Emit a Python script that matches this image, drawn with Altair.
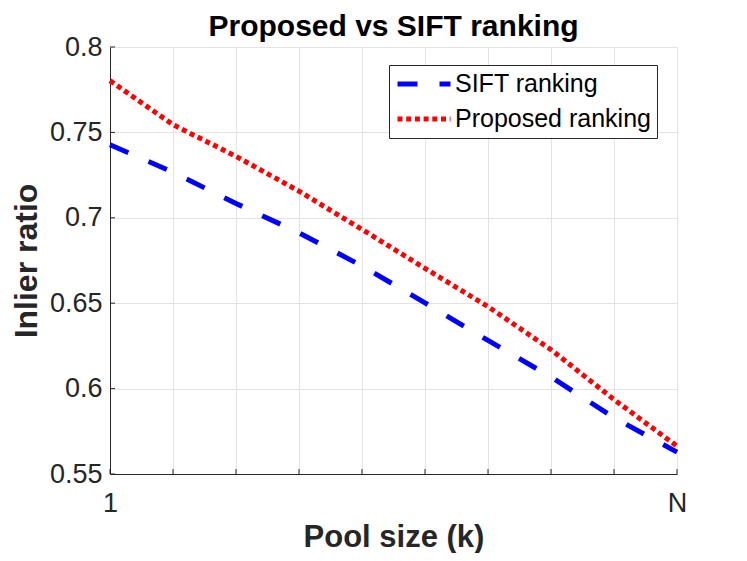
import altair as alt
import pandas as pd

pool = [1, 2, 3, 4, 5, 6, 7, 8, 9, 10]
sift = [0.7428, 0.7267, 0.7084, 0.6912, 0.6718, 0.6502, 0.6282, 0.6068, 0.5830, 0.5628]
proposed = [0.7803, 0.7545, 0.7360, 0.7156, 0.6932, 0.6704, 0.6480, 0.6228, 0.5936, 0.5663]
series = ["SIFT ranking", "Proposed ranking"]
y_ticks = [0.55, 0.6, 0.65, 0.7, 0.75, 0.8]

rows = []
for k, s, p in zip(pool, sift, proposed):
    rows.append({"k": k, "v": s, "s": series[0]})
    rows.append({"k": k, "v": p, "s": series[1]})
df = pd.DataFrame(rows)
xt = pd.DataFrame({"k": pool})
yt = pd.DataFrame({"v": y_ticks})

W, H = 567, 427
FONT = "Liberation Sans"
AX = "#262626"

xscale = alt.Scale(domain=[1, 10], nice=False, zero=False)
yscale = alt.Scale(domain=[0.55, 0.8], nice=False, zero=False)

lines = alt.Chart(df).mark_line(strokeWidth=5, strokeCap="butt").encode(
    x=alt.X("k:Q", scale=xscale,
            axis=alt.Axis(values=pool, title="Pool size (k)",
                          labelExpr="datum.value == 1 ? '1' : (datum.value == 10 ? 'N' : '')",
                          labelFlush=False, labelPadding=16, ticks=False,
                          titleY=72, titleBaseline="alphabetic", titleFontSize=31)),
    y=alt.Y("v:Q", scale=yscale,
            axis=alt.Axis(values=y_ticks, format=".2~f", title="Inlier ratio",
                          ticks=False, labelPadding=8, titleFontSize=32,
                          titleX=-84, titleBaseline="middle")),
    color=alt.Color("s:N", scale=alt.Scale(domain=series, range=["#0000ff", "#ff0000"]),
                    legend=alt.Legend(title=None, orient="none", legendX=279, legendY=18,
                                      strokeColor="#262626", fillColor="white",
                                      padding=6, symbolType="stroke", symbolSize=2809,
                                      symbolStrokeWidth=5, labelFontSize=25, labelFont=FONT,
                                      labelColor="black", rowPadding=9, clipHeight=26,
                                      labelOffset=2, symbolOffset=0, labelLimit=400)),
    strokeDash=alt.StrokeDash("s:N", scale=alt.Scale(domain=series, range=[[20, 22], [5, 3.7]]),
                              legend=None),
    order=alt.Order("k:Q"),
)

xticks = alt.Chart(xt).mark_rule(color=AX, strokeWidth=1).encode(
    x=alt.X("k:Q", scale=xscale), y=alt.value(H - 5), y2=alt.value(H)
)
yticks = alt.Chart(yt).mark_rule(color=AX, strokeWidth=1).encode(
    y=alt.Y("v:Q", scale=yscale), x=alt.value(0), x2=alt.value(5)
)

chart = alt.layer(lines, xticks, yticks).properties(
    width=W, height=H,
    title=alt.TitleParams("Proposed vs SIFT ranking", font=FONT, fontSize=30,
                          fontWeight="bold", color="black", anchor="middle", offset=-9),
    autosize=alt.AutoSizeParams(type="none"),
    padding={"left": 102, "top": 39, "right": 60, "bottom": 79},
).configure_view(stroke=None).configure_axis(
    domainColor=AX, domainWidth=1, gridColor="#e3e3e3", gridWidth=1,
    labelFont=FONT, labelFontSize=27, labelColor=AX,
    titleFont=FONT, titleFontWeight="bold", titleColor=AX,
)

chart.save("out.html", embed_options={"renderer": "svg", "actions": False})
